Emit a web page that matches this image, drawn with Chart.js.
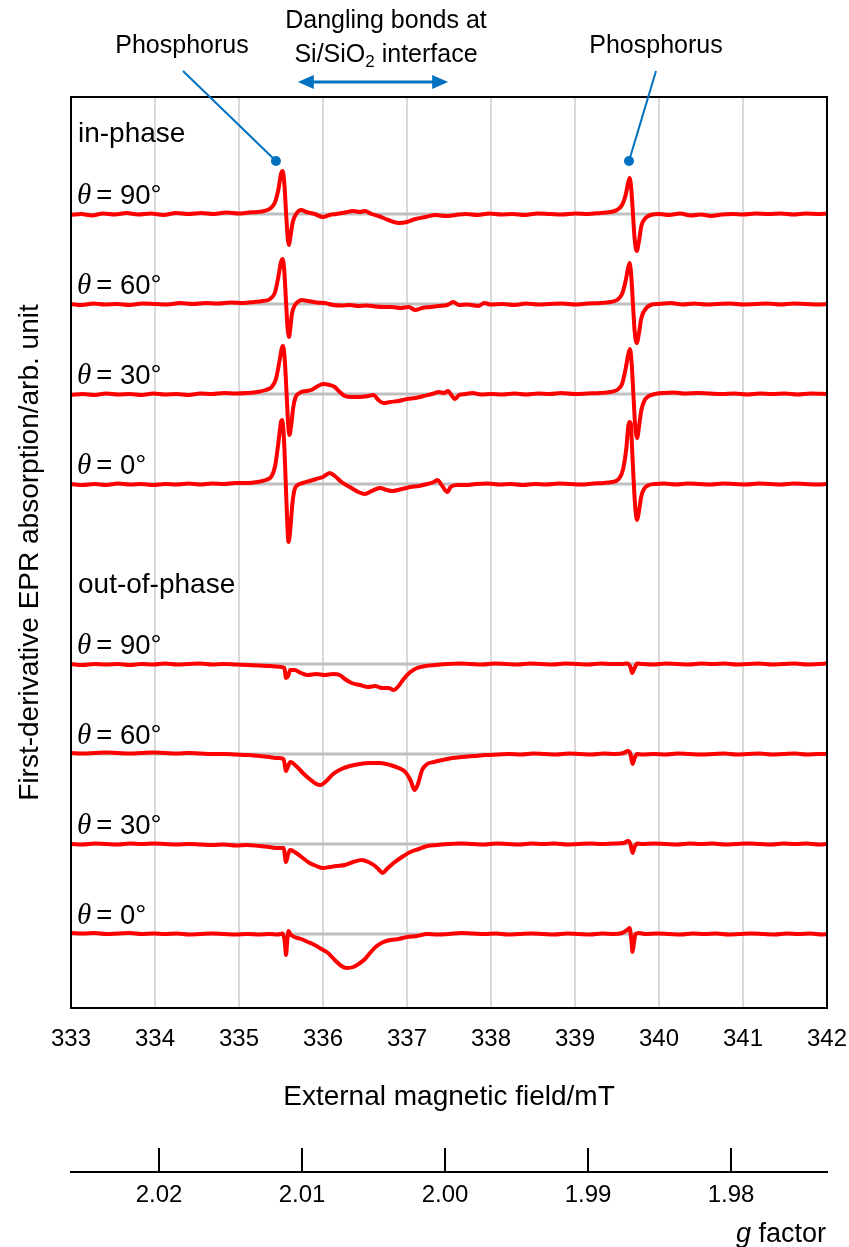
<!DOCTYPE html>
<html>
<head>
<meta charset="utf-8">
<script src="https://cdn.jsdelivr.net/npm/chart.js@4/dist/chart.umd.min.js"></script>
<style>
  body { margin: 0; background: #fff; }
</style>
</head>
<body>
<canvas id="eprChart" width="849" height="1247"></canvas>
<script>
// field (mT) and first-derivative signal (arb. unit)
const IN_90 = [[333.00,-1],[333.12,0],[333.25,-1.5],[333.38,0.5],[333.52,-0.5],[333.66,1],[333.80,-0.5],[333.95,0.5],[334.10,-1],[334.25,1],[334.40,0],[334.55,1],[334.70,0],[334.85,1.5],[335.00,0.5],[335.12,1.5],[335.22,2],[335.30,3],[335.38,6],[335.43,12],[335.47,25],[335.50,40],[335.52,43],[335.54,30],[335.56,2],[335.58,-24],[335.595,-31],[335.61,-24],[335.64,-8],[335.68,0],[335.74,4],[335.80,2],[335.90,0],[336.00,-3],[336.08,-1],[336.16,0],[336.26,1.5],[336.36,3],[336.44,2],[336.50,3],[336.58,0],[336.66,-2],[336.78,-6],[336.90,-9],[337.00,-8],[337.10,-5],[337.22,-3],[337.34,-1],[337.46,-2],[337.58,-1],[337.70,0],[337.84,-1],[337.98,0.5],[338.12,-0.5],[338.26,0],[338.40,-1],[338.55,0.5],[338.70,0],[338.85,-0.5],[339.00,0.5],[339.15,0],[339.30,1],[339.42,2],[339.50,4],[339.56,9],[339.60,18],[339.63,30],[339.65,36],[339.67,25],[339.69,0],[339.71,-25],[339.735,-37],[339.76,-28],[339.79,-12],[339.84,-4],[339.90,-1],[340.00,0],[340.12,-1],[340.25,0.5],[340.38,-1.5],[340.50,-0.5],[340.62,-2],[340.75,-0.5],[340.88,0],[341.00,-0.5],[341.15,0.5],[341.30,0],[341.45,0.5],[341.60,-0.5],[341.75,0.5],[341.90,0],[342.00,0.5]];
const IN_60 = [[333.00,0],[333.13,-1],[333.27,0.5],[333.40,-0.5],[333.55,0],[333.70,-1],[333.85,0.5],[334.00,0],[334.15,-0.5],[334.30,1],[334.45,0],[334.60,1],[334.75,0.5],[334.90,1.5],[335.05,1],[335.18,2],[335.28,3],[335.37,5],[335.43,12],[335.47,28],[335.50,42],[335.52,45],[335.54,32],[335.56,2],[335.58,-26],[335.595,-33],[335.61,-25],[335.63,-10],[335.66,-2],[335.70,2],[335.75,4],[335.82,3],[335.92,1.5],[336.02,1],[336.12,-1],[336.22,-1.5],[336.32,-1],[336.42,-2],[336.52,-1.5],[336.62,-2.5],[336.72,-3],[336.82,-3],[336.92,-4],[337.02,-3],[337.10,-6],[337.18,-4],[337.28,-3],[337.38,-2],[337.48,-1],[337.55,2],[337.62,-1],[337.72,-0.5],[337.85,-2],[337.92,1],[338.00,-0.5],[338.14,0],[338.28,-1],[338.42,0.5],[338.56,-0.5],[338.70,0],[338.85,0.5],[339.00,-0.5],[339.15,0.5],[339.30,1],[339.42,2],[339.50,4],[339.56,10],[339.60,22],[339.63,35],[339.65,41],[339.67,28],[339.69,0],[339.71,-27],[339.735,-39],[339.76,-30],[339.79,-14],[339.84,-5],[339.90,-1],[340.00,0],[340.14,1],[340.28,-0.5],[340.42,0.5],[340.56,-0.5],[340.70,0],[340.85,0.5],[341.00,-0.5],[341.15,0],[341.30,0.5],[341.45,-0.5],[341.60,0.5],[341.75,0],[341.90,-0.5],[342.00,0]];
const IN_30 = [[333.00,-1],[333.14,0],[333.28,-1],[333.42,0.5],[333.56,-0.5],[333.70,0],[333.84,-1],[333.98,0.5],[334.12,-0.5],[334.26,0],[334.40,-1],[334.54,0.5],[334.68,0],[334.82,1],[334.96,0.5],[335.10,1],[335.22,2],[335.32,4],[335.39,7],[335.44,15],[335.48,32],[335.51,46],[335.525,48],[335.545,34],[335.565,3],[335.585,-30],[335.60,-41],[335.62,-32],[335.645,-14],[335.67,-4],[335.72,1],[335.80,3],[335.86,4],[335.94,8],[336.00,10],[336.08,9],[336.14,7],[336.20,2],[336.26,-2],[336.34,-3],[336.44,-3],[336.54,-2],[336.60,-1],[336.66,-6],[336.72,-9],[336.80,-8],[336.90,-7],[337.00,-5],[337.10,-4],[337.20,-2],[337.30,0],[337.38,2],[337.44,1],[337.49,3],[337.52,0],[337.57,-5],[337.62,-1],[337.70,0],[337.78,1],[337.88,-0.5],[338.00,0],[338.14,-0.5],[338.28,0.5],[338.42,-0.5],[338.56,0.5],[338.70,0],[338.84,1],[339.00,0],[339.15,0.5],[339.30,1],[339.42,2],[339.50,4],[339.56,10],[339.60,24],[339.635,40],[339.655,45],[339.675,30],[339.695,0],[339.715,-30],[339.74,-44],[339.76,-34],[339.79,-16],[339.83,-6],[339.88,-2],[339.95,0],[340.05,1],[340.18,1.5],[340.30,0.5],[340.45,1],[340.60,0.5],[340.75,0],[340.90,0.5],[341.05,-0.5],[341.20,0.5],[341.35,0],[341.50,0.5],[341.65,-0.5],[341.80,0.5],[342.00,0]];
const IN_0 = [[333.00,0],[333.14,-1],[333.28,0],[333.42,-1],[333.56,0.5],[333.70,-0.5],[333.84,0],[333.98,-1],[334.12,0],[334.26,-0.5],[334.40,0.5],[334.54,-0.5],[334.68,0.5],[334.82,0],[334.96,1],[335.10,1],[335.22,2],[335.32,4],[335.39,8],[335.43,18],[335.47,42],[335.50,62],[335.515,64],[335.535,45],[335.555,5],[335.575,-40],[335.59,-58],[335.61,-46],[335.635,-20],[335.66,-6],[335.70,-1],[335.76,1],[335.84,3],[335.92,5],[336.00,7],[336.08,11],[336.14,8],[336.22,2],[336.32,-3],[336.42,-8],[336.50,-10],[336.58,-7],[336.68,-4],[336.76,-6],[336.83,-7],[336.94,-5],[337.04,-3],[337.14,-2],[337.24,0],[337.32,2],[337.36,4],[337.42,-2],[337.48,-8],[337.52,-3],[337.60,-1],[337.70,-1],[337.82,0],[337.96,0.5],[338.10,-0.5],[338.24,0],[338.38,-1],[338.52,0],[338.66,-0.5],[338.80,0.5],[338.94,0],[339.08,-0.5],[339.22,0.5],[339.34,1],[339.44,2],[339.52,5],[339.57,14],[339.61,35],[339.635,58],[339.65,62],[339.665,60],[339.68,35],[339.70,0],[339.72,-26],[339.74,-36],[339.76,-28],[339.79,-12],[339.83,-4],[339.88,-1],[339.95,0],[340.06,0.5],[340.20,-0.5],[340.34,0.5],[340.48,0],[340.62,-0.5],[340.76,0.5],[340.90,0],[341.04,-0.5],[341.18,0.5],[341.32,0],[341.46,-0.5],[341.60,0.5],[341.74,0],[341.88,-0.5],[342.00,0]];
const OUT_90 = [[333.00,0],[333.14,-1],[333.28,0],[333.42,-0.5],[333.56,0],[333.70,-1],[333.84,0],[333.98,-0.5],[334.12,0.5],[334.26,-0.5],[334.40,0],[334.54,0.5],[334.68,-0.5],[334.82,0],[334.96,-0.5],[335.10,-1],[335.24,-1.5],[335.38,-2],[335.50,-3],[335.54,-4],[335.56,-14],[335.585,-12],[335.61,-6],[335.66,-6],[335.74,-9],[335.82,-11],[335.92,-10],[336.02,-11],[336.12,-10],[336.20,-11],[336.26,-15],[336.34,-19],[336.44,-21],[336.54,-23],[336.62,-22],[336.70,-24],[336.78,-24],[336.84,-26],[336.90,-22],[336.96,-15],[337.04,-8],[337.12,-4],[337.22,-2],[337.34,-1],[337.48,0],[337.62,0.5],[337.76,0],[337.90,-0.5],[338.04,0.5],[338.18,0],[338.32,-0.5],[338.46,0.5],[338.60,0],[338.74,-0.5],[338.88,0.5],[339.02,0],[339.16,-0.5],[339.30,0.5],[339.44,0],[339.56,0],[339.62,0.5],[339.66,-3],[339.68,-9],[339.71,-4],[339.74,0.5],[339.80,0],[339.94,-0.5],[340.08,0.5],[340.22,0],[340.36,-0.5],[340.50,0.5],[340.64,0],[340.78,0.5],[340.92,-0.5],[341.06,0],[341.20,0.5],[341.34,-0.5],[341.48,0],[341.62,0.5],[341.76,-0.5],[341.90,0],[342.00,0.5]];
const OUT_60 = [[333.00,1],[333.14,0.5],[333.28,1],[333.42,1.5],[333.56,1],[333.70,0.5],[333.84,1],[333.98,1.5],[334.12,1],[334.26,0.5],[334.40,1],[334.54,0.5],[334.68,0],[334.82,0],[334.96,-0.5],[335.10,-1],[335.24,-2],[335.36,-3],[335.46,-4],[335.53,-5],[335.56,-17],[335.585,-12],[335.61,-8],[335.68,-12],[335.76,-19],[335.84,-25],[335.92,-30],[335.97,-31],[336.04,-27],[336.12,-20],[336.22,-15],[336.32,-12],[336.44,-10],[336.56,-9],[336.68,-9],[336.80,-11],[336.90,-14],[336.98,-18],[337.04,-26],[337.09,-36],[337.13,-30],[337.18,-16],[337.24,-10],[337.32,-8],[337.42,-6],[337.54,-4],[337.66,-3],[337.80,-2],[337.94,-1],[338.08,-0.5],[338.22,0],[338.36,-0.5],[338.50,0.5],[338.64,0],[338.78,-0.5],[338.92,0.5],[339.06,0],[339.20,-0.5],[339.34,0.5],[339.48,0],[339.58,1],[339.63,3],[339.66,0],[339.685,-10],[339.71,-4],[339.74,0],[339.80,-0.5],[339.94,0],[340.08,-0.5],[340.22,0.5],[340.36,0],[340.50,-0.5],[340.64,0],[340.78,0.5],[340.92,-0.5],[341.06,0],[341.20,0.5],[341.34,-0.5],[341.48,0],[341.62,0.5],[341.76,-0.5],[341.90,0],[342.00,0]];
const OUT_30 = [[333.00,0],[333.14,-0.5],[333.28,0.5],[333.42,0],[333.56,-0.5],[333.70,0.5],[333.84,0],[333.98,0.5],[334.12,0],[334.26,-0.5],[334.40,0],[334.54,-0.5],[334.68,-1],[334.82,-0.5],[334.96,-1.5],[335.10,-1],[335.24,-2],[335.36,-3],[335.46,-4],[335.53,-4],[335.56,-18],[335.585,-10],[335.61,-6],[335.68,-9],[335.76,-14],[335.84,-19],[335.92,-22],[336.00,-24],[336.08,-23],[336.16,-22],[336.26,-21],[336.36,-18],[336.46,-16],[336.54,-18],[336.62,-22],[336.68,-27],[336.71,-29],[336.76,-25],[336.84,-19],[336.94,-13],[337.04,-8],[337.14,-5],[337.24,-2],[337.36,-1],[337.50,0],[337.64,0.5],[337.78,0],[337.92,-0.5],[338.06,0.5],[338.20,0],[338.34,-0.5],[338.48,0.5],[338.62,0],[338.76,0.5],[338.90,-0.5],[339.04,0],[339.18,0.5],[339.32,0],[339.46,0.5],[339.58,1],[339.63,3],[339.66,0],[339.685,-9],[339.71,-3],[339.74,0.5],[339.80,0],[339.94,0.5],[340.08,0],[340.22,-0.5],[340.36,0.5],[340.50,0],[340.64,0.5],[340.78,-0.5],[340.92,0],[341.06,0.5],[341.20,0],[341.34,-0.5],[341.48,0.5],[341.62,0],[341.76,0.5],[341.90,-0.5],[342.00,0]];
const OUT_0 = [[333.00,1],[333.14,0.5],[333.28,1],[333.42,0],[333.56,0.5],[333.70,1],[333.84,0],[333.98,0.5],[334.12,0],[334.26,0.5],[334.40,-0.5],[334.54,0],[334.68,0.5],[334.82,0],[334.96,-0.5],[335.10,0],[335.24,-0.5],[335.36,0],[335.46,-0.5],[335.52,0.5],[335.545,-8],[335.56,-21],[335.575,-6],[335.59,3],[335.61,0],[335.66,-3],[335.74,-5],[335.82,-8],[335.90,-11],[335.98,-15],[336.06,-19],[336.14,-26],[336.22,-32],[336.28,-34],[336.36,-33],[336.44,-29],[336.50,-25],[336.58,-17],[336.64,-12],[336.72,-8],[336.80,-6],[336.90,-5],[337.00,-3],[337.12,-2],[337.24,0],[337.36,-0.5],[337.50,0],[337.64,1],[337.78,0.5],[337.92,0],[338.06,0.5],[338.20,-0.5],[338.34,0],[338.48,0.5],[338.62,0],[338.76,-0.5],[338.90,0.5],[339.04,0],[339.18,-0.5],[339.32,0.5],[339.46,0],[339.56,1],[339.62,4],[339.65,6],[339.67,-5],[339.685,-18],[339.70,-10],[339.72,0],[339.76,1],[339.84,0],[339.98,0.5],[340.12,0],[340.26,-0.5],[340.40,0.5],[340.54,0],[340.68,0.5],[340.82,-0.5],[340.96,0],[341.10,0.5],[341.24,0],[341.38,-0.5],[341.52,0.5],[341.66,0],[341.80,0.5],[341.94,-0.5],[342.00,0]];

const traces = [IN_90, IN_60, IN_30, IN_0, OUT_90, OUT_60, OUT_30, OUT_0];
const angles = ['90', '60', '30', '0', '90', '60', '30', '0'];
// vertical offset of each spectrum in the stack
const offsets = [794, 704, 614, 524, 344, 254, 164, 74];
const fieldTicks = [333, 334, 335, 336, 337, 338, 339, 340, 341, 342];
const gRange = [1.973287, 2.026154];

const datasets = [];
traces.forEach((tr, i) => {
    datasets.push({
        data: [{x: 333, y: offsets[i]}, {x: 342, y: offsets[i]}],
        borderColor: '#bfbfbf',
        borderWidth: 3,
        pointRadius: 0,
        order: 2
    });
    datasets.push({
        data: tr.map(p => ({x: p[0], y: offsets[i] + p[1]})),
        borderColor: '#ff0000',
        borderWidth: 4,
        pointRadius: 0,
        cubicInterpolationMode: 'monotone',
        order: 1
    });
});

const SANS = '"Liberation Sans", Arial, sans-serif';
const BLUE = '#0070c0';

const annotations = {
    id: 'annotations',
    afterDraw(chart) {
        const {ctx, chartArea: a, scales: {x, y, g}} = chart;
        ctx.save();
        // frame
        ctx.strokeStyle = '#000';
        ctx.lineWidth = 2;
        ctx.strokeRect(a.left, a.top, a.right - a.left, a.bottom - a.top);

        // in-phase / out-of-phase
        ctx.fillStyle = '#000';
        ctx.textAlign = 'left';
        ctx.textBaseline = 'alphabetic';
        ctx.font = '28px ' + SANS;
        ctx.fillText('in-phase', a.left + 7, y.getPixelForValue(offsets[0]) - 72);
        ctx.fillText('out-of-phase', a.left + 7, y.getPixelForValue(offsets[4]) - 71);

        // theta labels
        offsets.forEach((off, i) => {
            const yb = y.getPixelForValue(off) - 10;
            ctx.font = 'italic 29px "Liberation Serif", serif';
            ctx.fillText('θ', a.left + 6, yb);
            const w = ctx.measureText('θ').width;
            ctx.font = '27.5px ' + SANS;
            ctx.fillText('= ' + angles[i] + '°', a.left + 6 + w + 5, yb);
        });

        // Phosphorus markers
        ctx.font = '25px ' + SANS;
        ctx.textAlign = 'center';
        ctx.fillText('Phosphorus', 182, 53);
        ctx.fillText('Phosphorus', 656, 53);
        const dotY = y.getPixelForValue(offsets[0] + 53);
        const dots = [[183, x.getPixelForValue(335.44)], [656, x.getPixelForValue(339.643)]];
        ctx.strokeStyle = BLUE;
        ctx.fillStyle = BLUE;
        ctx.lineWidth = 2;
        dots.forEach(([tx, dx]) => {
            ctx.beginPath();
            ctx.moveTo(tx, 71);
            ctx.lineTo(dx, dotY);
            ctx.stroke();
            ctx.beginPath();
            ctx.arc(dx, dotY, 5, 0, Math.PI * 2);
            ctx.fill();
        });

        // dangling bonds arrow
        const x1 = x.getPixelForValue(335.70), x2 = x.getPixelForValue(337.49), ay = 82;
        ctx.lineWidth = 3;
        ctx.beginPath();
        ctx.moveTo(x1 + 10, ay);
        ctx.lineTo(x2 - 10, ay);
        ctx.stroke();
        ctx.beginPath();
        ctx.moveTo(x1, ay); ctx.lineTo(x1 + 16, ay - 7); ctx.lineTo(x1 + 16, ay + 7); ctx.closePath();
        ctx.moveTo(x2, ay); ctx.lineTo(x2 - 16, ay - 7); ctx.lineTo(x2 - 16, ay + 7); ctx.closePath();
        ctx.fill();

        ctx.fillStyle = '#000';
        ctx.font = '25px ' + SANS;
        ctx.fillText('Dangling bonds at', 386, 28);
        // Si/SiO2 interface with subscript
        const p1 = 'Si/SiO', p3 = ' interface';
        const w1 = ctx.measureText(p1).width, w3 = ctx.measureText(p3).width;
        ctx.font = '17px ' + SANS;
        const w2 = ctx.measureText('2').width;
        const sx = 386 - (w1 + w2 + w3) / 2;
        ctx.textAlign = 'left';
        ctx.font = '25px ' + SANS;
        ctx.fillText(p1, sx, 62);
        ctx.fillText(p3, sx + w1 + w2, 62);
        ctx.font = '17px ' + SANS;
        ctx.fillText('2', sx + w1, 67);

        // g factor tick marks (pointing up) and title
        ctx.strokeStyle = '#000';
        ctx.lineWidth = 2;
        g.ticks.forEach(t => {
            const px = g.getPixelForValue(t.value);
            ctx.beginPath();
            ctx.moveTo(px, g.top);
            ctx.lineTo(px, g.top - 24);
            ctx.stroke();
        });
        ctx.font = '27px ' + SANS;
        const wf = ctx.measureText(' factor').width;
        ctx.textAlign = 'right';
        ctx.fillText(' factor', 826, 1242);
        ctx.font = 'italic 27px ' + SANS;
        ctx.fillText('g', 826 - wf, 1242);
        ctx.restore();
    }
};

const ctx = document.getElementById('eprChart').getContext('2d');
const eprChart = new Chart(ctx, {
    type: 'line',
    data: { datasets },
    options: {
        responsive: false,
        animation: false,
        layout: { padding: { top: 97, right: 22, left: 0, bottom: 0 } },
        plugins: {
            legend: { display: false },
            tooltip: { enabled: false }
        },
        scales: {
            x: {
                type: 'linear',
                position: 'bottom',
                min: fieldTicks[0],
                max: fieldTicks[fieldTicks.length - 1],
                afterBuildTicks: s => { s.ticks = fieldTicks.map(v => ({value: v})); },
                ticks: { padding: 0, color: '#000', font: { family: SANS, size: 24 } },
                grid: { color: '#d9d9d9', lineWidth: 2, drawTicks: true, tickLength: 17, tickColor: 'rgba(0,0,0,0)' },
                border: { display: false },
                title: {
                    display: true,
                    text: 'External magnetic field/mT',
                    color: '#000',
                    font: { family: SANS, size: 28 },
                    padding: { top: 0, bottom: 58 }
                },
                afterFit: s => { s.height = 164; }
            },
            g: {
                type: 'linear',
                position: 'bottom',
                weight: 1,
                reverse: true,
                min: gRange[0],
                max: gRange[1],
                ticks: {
                    stepSize: 0.01,
                    includeBounds: false,
                    padding: 9,
                    color: '#000',
                    font: { family: SANS, size: 24 },
                    callback: v => v.toFixed(2)
                },
                grid: { display: false, drawTicks: false },
                border: { display: true, color: '#000', width: 2 },
                afterFit: s => { s.height = 75; }
            },
            y: {
                min: 0,
                max: 911,
                ticks: { display: false },
                grid: { display: false },
                border: { display: false },
                title: {
                    display: true,
                    text: 'First-derivative EPR absorption/arb. unit',
                    color: '#000',
                    font: { family: SANS, size: 28 },
                    padding: { top: 13, bottom: 0 }
                },
                afterFit: s => { s.width = 71; }
            }
        }
    },
    plugins: [annotations]
});
</script>
</body>
</html>
